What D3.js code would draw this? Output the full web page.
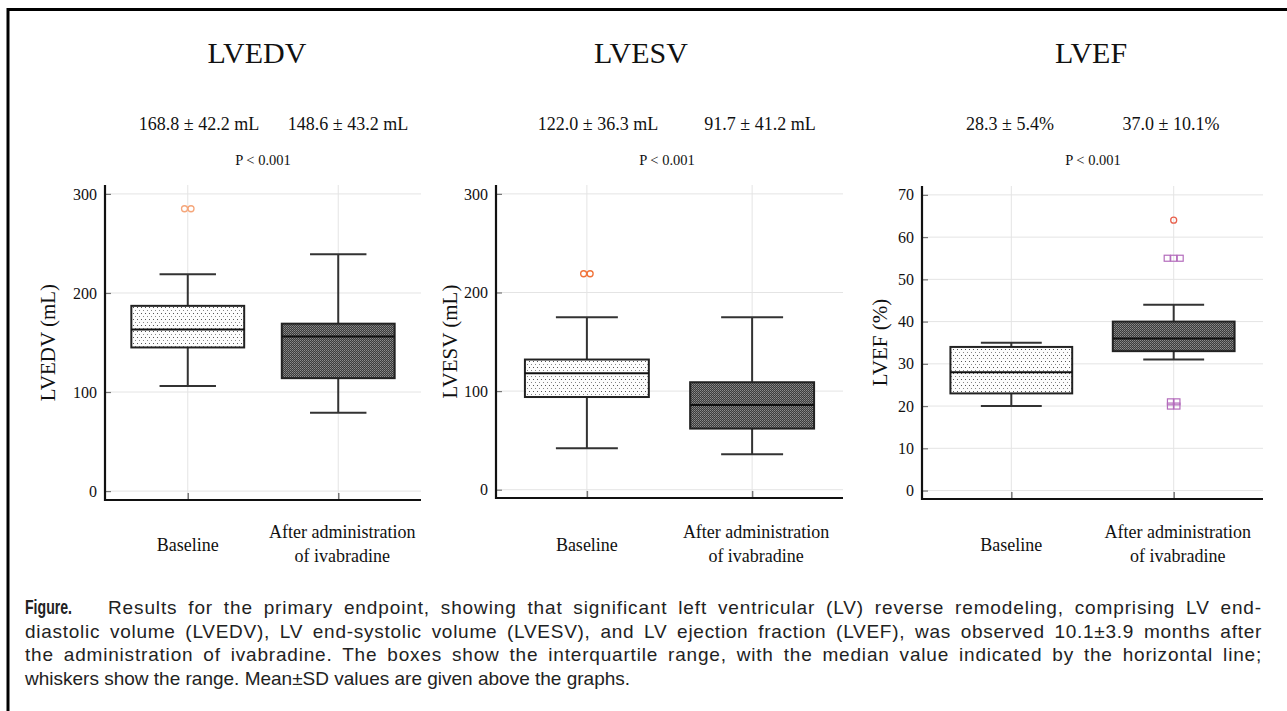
<!DOCTYPE html>
<html>
<head>
<meta charset="utf-8">
<script src="https://cdn.jsdelivr.net/npm/d3@7/dist/d3.min.js"></script>
<style>
  body { margin: 0; background: #fff; }
  svg { display: block; }
  .serif { font-family: "Liberation Serif", "Times New Roman", serif; fill: #111; }
  .cap { font-family: "Liberation Sans", Arial, sans-serif; fill: #222; font-size: 19px; }
</style>
</head>
<body>
<script>
'use strict';

// groups on the x axis
const groups = ["Baseline", "After"];
const groupLabels = [["Baseline"], ["After administration", "of ivabradine"]];

// panel titles, mean ± SD, p values
const titles = ["LVEDV", "LVESV", "LVEF"];
const yLabels = ["LVEDV (mL)", "LVESV (mL)", "LVEF (%)"];
const meanTexts = [
  ["168.8 \u00b1 42.2 mL", "148.6 \u00b1 43.2 mL"],
  ["122.0 \u00b1 36.3 mL", "91.7 \u00b1 41.2 mL"],
  ["28.3 \u00b1 5.4%", "37.0 \u00b1 10.1%"]
];
const pTexts = ["P < 0.001", "P < 0.001", "P < 0.001"];

// box stats: [min, q1, median, q3, max] for baseline / after
const lvedv = [[106, 145, 163, 187, 219], [79, 114, 156, 169, 239]];
const lvesv = [[42, 94, 118, 132, 175], [36, 62, 86, 109, 175]];
const lvef  = [[20, 23, 28, 34, 35], [31, 33, 36, 40, 44]];

// outliers: [group index, value, shape]
const lvedvOut = [[0, 285, "circle"], [0, 285, "circle"]];
const lvesvOut = [[0, 219, "circle"], [0, 219, "circle"]];
const lvefOut = [[1, 64, "circle"], [1, 55, "square"], [1, 55, "square"], [1, 55, "square"],
                 [1, 21, "square"], [1, 21, "square"], [1, 20, "square"], [1, 20, "square"]];

// y ticks
const ticksVol = [0, 100, 200, 300];
const ticksEF = [0, 10, 20, 30, 40, 50, 60, 70];

const panels = [
  {stats: lvedv, out: lvedvOut, ticks: ticksVol, domain: [-9, 309], left: 105, right: 421, top: 185, bottom: 500,
   titleX: 257, meanX: [199, 348], pX: 263, yLabX: 55, outColor: "#f5a67a"},
  {stats: lvesv, out: lvesvOut, ticks: ticksVol, domain: [-8.4, 309], left: 496, right: 843, top: 185, bottom: 498,
   titleX: 641, meanX: [598, 760], pX: 667, yLabX: 457, outColor: "#f07238"},
  {stats: lvef, out: lvefOut, ticks: ticksEF, domain: [-2, 72.1], left: 922, right: 1263, top: 186, bottom: 499,
   titleX: 1091, meanX: [1010, 1171], pX: 1093, yLabX: 887, outColor: "#e8604c"}
];

const caption = [
  "Results for the primary endpoint, showing that significant left ventricular (LV) reverse remodeling, comprising LV end-",
  "diastolic volume (LVEDV), LV end-systolic volume (LVESV), and LV ejection fraction (LVEF), was observed 10.1\u00b13.9 months after",
  "the administration of ivabradine. The boxes show the interquartile range, with the median value indicated by the horizontal line;",
  "whiskers show the range. Mean\u00b1SD values are given above the graphs."
];

const W = 1287, H = 711;
const svg = d3.select("body").append("svg").attr("width", W).attr("height", H);

// fill patterns
const defs = svg.append("defs");
const light = defs.append("pattern").attr("id", "dots").attr("patternUnits", "userSpaceOnUse")
    .attr("width", 4).attr("height", 6);
light.append("rect").attr("width", 4).attr("height", 6).attr("fill", "#fdfdfd");
light.append("rect").attr("x", 1).attr("y", 1).attr("width", 1).attr("height", 1).attr("fill", "#555");
light.append("rect").attr("x", 3).attr("y", 4).attr("width", 1).attr("height", 1).attr("fill", "#888");

const dark = defs.append("pattern").attr("id", "checks").attr("patternUnits", "userSpaceOnUse")
    .attr("width", 2).attr("height", 2);
dark.append("rect").attr("width", 2).attr("height", 2).attr("fill", "#3c3c3c");
dark.append("rect").attr("x", 0).attr("y", 0).attr("width", 1).attr("height", 1).attr("fill", "#8c8c8c");
dark.append("rect").attr("x", 1).attr("y", 1).attr("width", 1).attr("height", 1).attr("fill", "#727272");
const fills = ["url(#dots)", "url(#checks)"];

// frame
svg.append("line").attr("x1", 8).attr("x2", W).attr("y1", 9.5).attr("y2", 9.5)
    .attr("stroke", "#000").attr("stroke-width", 3);
svg.append("line").attr("x1", 8).attr("x2", 8).attr("y1", 8).attr("y2", H)
    .attr("stroke", "#000").attr("stroke-width", 3);

panels.forEach((p, k) => {
  const g = svg.append("g");
  const y = d3.scaleLinear().domain(p.domain).range([p.bottom, p.top]);
  const x = d3.scalePoint().domain(groups).range([p.left, p.right]).padding(0.55);
  const step = x.step();
  const bw = step * 0.75;

  // grid
  g.selectAll(".hg").data(p.ticks).join("line")
      .attr("x1", p.left).attr("x2", p.right)
      .attr("y1", d => y(d)).attr("y2", d => y(d))
      .attr("stroke", "#e4e4e4").attr("stroke-width", 1);
  g.selectAll(".vg").data(groups).join("line")
      .attr("x1", d => x(d)).attr("x2", d => x(d))
      .attr("y1", p.top).attr("y2", p.bottom)
      .attr("stroke", "#e4e4e4").attr("stroke-width", 1);

  // y axis (ticks pointing inward)
  const ya = g.append("g").attr("transform", `translate(${p.left},0)`)
      .call(d3.axisLeft(y).tickValues(p.ticks).tickSize(-6).tickPadding(8).tickSizeOuter(0))
      .attr("font-family", "Liberation Serif, Times New Roman, serif")
      .attr("font-size", 16);
  ya.select(".domain").remove();
  ya.selectAll(".tick line").attr("stroke", "#777").attr("stroke-width", 1.2);
  ya.selectAll(".tick text").attr("fill", "#111");

  // x axis ticks inward
  const xa = g.append("g").attr("transform", `translate(0,${p.bottom})`)
      .call(d3.axisBottom(x).tickSize(-7).tickFormat(""));
  xa.select(".domain").remove();
  xa.selectAll(".tick line").attr("stroke", "#777").attr("stroke-width", 1.5);

  // axis lines
  g.append("line").attr("x1", p.left).attr("x2", p.left).attr("y1", p.top).attr("y2", p.bottom + 1)
      .attr("stroke", "#111").attr("stroke-width", 2.2);
  g.append("line").attr("x1", p.left - 1).attr("x2", p.right).attr("y1", p.bottom).attr("y2", p.bottom)
      .attr("stroke", "#111").attr("stroke-width", 2.2);

  // boxes
  p.stats.forEach((s, i) => {
    const cx = x(groups[i]);
    const bg = g.append("g");
    bg.append("line").attr("x1", cx).attr("x2", cx).attr("y1", y(s[4])).attr("y2", y(s[3]))
        .attr("stroke", "#333").attr("stroke-width", 2);
    bg.append("line").attr("x1", cx).attr("x2", cx).attr("y1", y(s[1])).attr("y2", y(s[0]))
        .attr("stroke", "#333").attr("stroke-width", 2);
    [s[0], s[4]].forEach(v => {
      bg.append("line").attr("x1", cx - bw / 4).attr("x2", cx + bw / 4).attr("y1", y(v)).attr("y2", y(v))
          .attr("stroke", "#333").attr("stroke-width", 2);
    });
    bg.append("rect").attr("x", cx - bw / 2).attr("width", bw)
        .attr("y", y(s[3])).attr("height", y(s[1]) - y(s[3]))
        .attr("fill", fills[i]).attr("stroke", "#222").attr("stroke-width", 2);
    bg.append("line").attr("x1", cx - bw / 2).attr("x2", cx + bw / 2).attr("y1", y(s[2])).attr("y2", y(s[2]))
        .attr("stroke", "#111").attr("stroke-width", 2);
  });

  // outliers, duplicates spread side by side
  const counts = d3.rollup(p.out, v => v.length, d => d[0] + "|" + d[1]);
  const seen = new Map();
  p.out.forEach(o => {
    const key = o[0] + "|" + o[1];
    const n = counts.get(key);
    const idx = seen.get(key) || 0;
    seen.set(key, idx + 1);
    const cx = x(groups[o[0]]) + (idx - (n - 1) / 2) * 6.5;
    const cy = y(o[1]);
    if (o[2] === "circle") {
      g.append("circle").attr("cx", cx).attr("cy", cy).attr("r", 3)
          .attr("fill", "none").attr("stroke", p.outColor).attr("stroke-width", 1.3);
    } else {
      g.append("rect").attr("x", cx - 3).attr("y", cy - 3).attr("width", 6).attr("height", 6)
          .attr("fill", "none").attr("stroke", "#b46cbc").attr("stroke-width", 1.2);
    }
  });

  // texts
  svg.append("text").attr("class", "serif").attr("x", p.titleX).attr("y", 63)
      .attr("text-anchor", "middle").style("font-size", "30px").text(titles[k]);
  meanTexts[k].forEach((t, i) => {
    svg.append("text").attr("class", "serif").attr("x", p.meanX[i]).attr("y", 130)
        .attr("text-anchor", "middle").style("font-size", "18px").text(t);
  });
  svg.append("text").attr("class", "serif").attr("x", p.pX).attr("y", 165)
      .attr("text-anchor", "middle").style("font-size", "14.5px").text(pTexts[k]);
  svg.append("text").attr("class", "serif")
      .attr("transform", `translate(${p.yLabX},${(p.top + p.bottom) / 2}) rotate(-90)`)
      .attr("text-anchor", "middle").style("font-size", "21px").text(yLabels[k]);
  groupLabels.forEach((lines, i) => {
    const lx = x(groups[i]) + (i ? 4 : 0);
    const t = svg.append("text").attr("class", "serif").attr("x", lx)
        .attr("text-anchor", "middle").style("font-size", "18px");
    const y0 = lines.length === 1 ? 551 : 538;
    lines.forEach((l, j) => t.append("tspan").attr("x", lx).attr("y", y0 + j * 24).text(l));
  });
});

// caption, justified with a mix of letter and word spacing
svg.append("text").attr("class", "cap").attr("x", 25).attr("y", 614)
    .style("font-weight", "bold").style("font-size", "21px")
    .attr("textLength", 47).attr("lengthAdjust", "spacingAndGlyphs")
    .text("Figure.");
caption.forEach((line, i) => {
  const x0 = i === 0 ? 108 : 25;
  const t = svg.append("text").attr("class", "cap").attr("x", x0).attr("y", 614 + i * 23.7).text(line);
  if (i < 3) {
    const natural = t.node().getComputedTextLength();
    const extra = 1262 - x0 - natural;
    const spaces = line.split(" ").length - 1;
    t.attr("letter-spacing", 0.6 * extra / line.length)
     .attr("word-spacing", 0.4 * extra / spaces);
  }
});
</script>
</body>
</html>
